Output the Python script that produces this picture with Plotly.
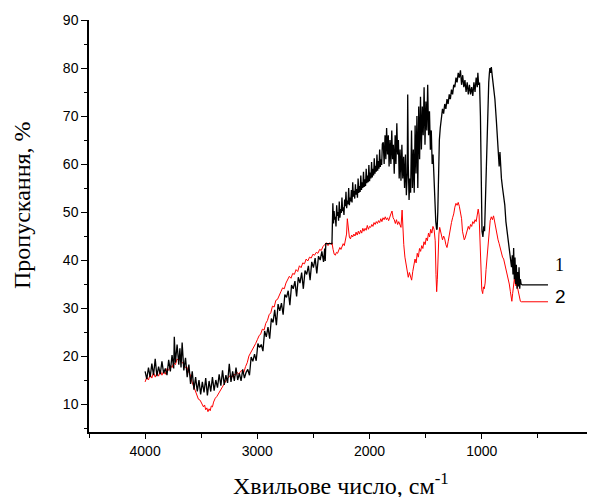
import plotly.graph_objects as go

# ---- data: sample 1 (black) : (wavenumber cm-1, transmittance %) ----
spec1 = [
    (4000, 16.8), (3985, 15.2), (3970, 17.6), (3955, 15.6), (3940, 18.4), (3925, 16.0),
    (3910, 19.4), (3895, 15.8), (3880, 17.8), (3865, 16.2), (3850, 18.9), (3835, 16.4),
    (3820, 17.4), (3805, 16.0), (3790, 19.2), (3775, 16.8), (3760, 20.2), (3745, 17.4),
    (3740, 24.0), (3730, 18.6), (3715, 22.4), (3700, 18.2), (3690, 21.6), (3680, 17.6),
    (3670, 22.8), (3655, 17.0), (3640, 19.6), (3625, 15.6), (3610, 18.2), (3595, 14.2),
    (3580, 16.8), (3565, 13.0), (3550, 15.6), (3535, 12.6), (3520, 15.0), (3505, 12.0),
    (3490, 14.6), (3475, 12.4), (3460, 15.4), (3445, 11.8), (3430, 14.8), (3415, 12.6),
    (3400, 15.6), (3385, 12.8), (3370, 15.0), (3355, 13.4), (3340, 16.2), (3325, 13.8),
    (3310, 17.0), (3295, 14.0), (3280, 16.0), (3265, 14.4), (3250, 18.4), (3235, 14.6),
    (3220, 16.8), (3205, 14.8), (3190, 17.6), (3175, 15.0), (3160, 16.4), (3145, 14.8),
    (3130, 17.2), (3115, 15.4), (3100, 16.6), (3085, 17.2), (3070, 16.0), (3055, 19.8),
    (3040, 18.9), (3025, 20.4), (3010, 19.0), (2995, 22.6), (2980, 21.8), (2965, 22.4),
    (2950, 21.0), (2935, 25.2), (2920, 24.0), (2905, 26.0), (2890, 23.6), (2875, 27.8),
    (2860, 27.0), (2845, 29.6), (2830, 26.4), (2815, 30.8), (2800, 29.4), (2785, 31.0),
    (2770, 28.6), (2755, 32.8), (2740, 32.2), (2725, 33.6), (2710, 30.6), (2695, 34.8),
    (2680, 34.0), (2665, 35.6), (2650, 32.4), (2635, 36.4), (2620, 35.2), (2605, 37.4),
    (2590, 34.0), (2575, 37.8), (2560, 37.0), (2545, 38.8), (2530, 35.8), (2515, 39.6),
    (2500, 38.4), (2485, 40.4), (2470, 37.2), (2455, 40.8), (2440, 40.0), (2425, 41.8),
    (2410, 39.6), (2400, 42.4), (2395, 39.8), (2390, 43.4), (2335, 43.4),
    (2327, 51.8), (2321, 47.6), (2316, 50.2), (2310, 48.4), (2305, 49.0), (2299, 47.0),
    (2293, 51.4), (2287, 49.2), (2281, 50.0), (2276, 48.2), (2270, 52.2), (2264, 48.8),
    (2258, 50.6), (2252, 49.8), (2246, 53.0), (2240, 50.2), (2234, 51.0), (2228, 49.4),
    (2222, 52.6), (2216, 51.2), (2210, 54.2), (2204, 50.8), (2198, 52.4), (2192, 51.6),
    (2186, 55.0), (2180, 51.4), (2174, 53.0), (2168, 52.2), (2162, 54.6), (2156, 52.0),
    (2150, 56.2), (2144, 53.2), (2138, 54.4), (2132, 52.8), (2126, 55.8), (2120, 53.6),
    (2114, 54.8), (2108, 53.0), (2102, 57.0), (2096, 54.0), (2090, 55.4), (2084, 54.2),
    (2078, 57.6), (2072, 54.6), (2066, 56.2), (2060, 55.0), (2054, 58.4), (2048, 55.2),
    (2042, 56.8), (2036, 55.4), (2030, 59.0), (2024, 56.0), (2018, 57.6), (2012, 56.2),
    (2006, 59.8), (2000, 56.4), (1994, 58.2), (1988, 57.0), (1982, 60.4), (1976, 57.2),
    (1970, 59.0), (1964, 57.6), (1958, 61.2), (1952, 58.0), (1946, 59.6), (1940, 58.4),
    (1934, 62.0), (1928, 58.6), (1922, 60.6), (1916, 59.0), (1910, 63.0), (1904, 59.4),
    (1898, 61.0), (1892, 59.8), (1886, 64.2),
    (1878, 64.5), (1870, 60.0),
    (1862, 66.0), (1855, 61.0), (1848, 67.5), (1840, 62.0), (1833, 66.0), (1826, 59.5),
    (1818, 65.0), (1810, 60.0), (1802, 67.0), (1795, 61.0), (1788, 64.0), (1780, 58.0),
    (1772, 66.0), (1765, 60.0), (1757, 68.5), (1750, 62.0), (1743, 65.0), (1736, 57.0),
    (1728, 63.0), (1720, 56.5), (1712, 64.0), (1704, 57.0), (1696, 61.5), (1688, 55.0),
    (1680, 62.0), (1672, 53.5), (1664, 58.0), (1660, 74.5), (1655, 60.0), (1648, 52.5),
    (1641, 57.0), (1634, 54.0), (1626, 67.0), (1618, 55.0), (1610, 63.0), (1602, 54.0),
    (1594, 68.0), (1586, 58.0), (1578, 70.0), (1570, 55.0), (1562, 72.0), (1554, 61.0),
    (1546, 74.0), (1538, 63.0), (1530, 72.0), (1522, 66.0), (1514, 76.0), (1506, 64.0),
    (1498, 73.0), (1490, 67.0), (1482, 76.5), (1474, 66.0), (1466, 71.0), (1458, 63.0),
    (1450, 67.0), (1442, 60.0), (1434, 62.0), (1426, 56.0), (1418, 53.0), (1410, 48.0),
    (1402, 46.3), (1398, 46.5), (1392, 50.0), (1385, 58.0), (1378, 65.0), (1370, 67.5),
    (1360, 69.0), (1350, 71.5), (1340, 70.5), (1330, 72.5), (1320, 71.5), (1310, 73.5),
    (1300, 72.5), (1290, 74.5), (1280, 73.5), (1270, 75.5), (1260, 74.5), (1250, 76.5),
    (1240, 76.0), (1230, 78.0), (1220, 77.0), (1210, 79.0), (1200, 78.0), (1190, 79.5),
    (1180, 76.5), (1170, 78.5), (1160, 76.0), (1150, 77.5), (1140, 75.0), (1130, 77.0),
    (1120, 74.5), (1110, 76.5), (1100, 74.5), (1090, 76.0), (1080, 74.2), (1070, 77.0),
    (1060, 75.0), (1050, 78.0), (1040, 76.0), (1035, 79.0), (1028, 76.5), (1020, 77.0),
    (1012, 70.0), (1005, 55.0), (998, 46.0), (990, 44.8), (982, 47.0), (975, 46.0),
    (968, 52.0), (960, 60.0), (952, 68.0), (945, 74.0), (938, 77.0), (932, 79.0),
    (928, 80.0), (920, 79.0), (915, 80.2), (905, 78.0), (895, 76.0), (883, 73.5),
    (870, 69.0), (860, 65.0), (850, 62.0), (845, 59.5), (838, 62.5), (832, 59.0),
    (825, 57.0), (815, 55.0), (805, 53.0), (795, 51.5), (785, 48.0), (775, 46.0),
    (765, 44.5), (755, 42.0), (745, 40.0), (735, 38.5), (728, 41.0), (722, 37.0),
    (716, 42.5), (710, 36.0), (704, 40.5), (698, 35.0), (692, 39.0), (686, 34.0),
    (680, 37.5), (674, 34.5), (668, 38.5), (662, 34.0), (656, 36.0), (650, 35.0),
    (640, 34.8), (410, 34.8),
]

# ---- data: sample 2 (red) ----
spec2 = [
    (4000, 14.6), (3985, 15.6), (3970, 15.0), (3955, 16.2), (3940, 15.4), (3925, 16.6),
    (3910, 15.6), (3895, 16.4), (3880, 15.8), (3865, 17.0), (3850, 16.0), (3835, 16.8),
    (3820, 16.2), (3805, 17.4), (3790, 17.0), (3775, 18.0), (3760, 17.6), (3745, 18.6),
    (3730, 18.2), (3715, 19.4), (3700, 19.0), (3690, 19.6), (3675, 18.8), (3660, 18.4),
    (3645, 17.6), (3630, 17.8), (3615, 16.8), (3600, 16.2), (3585, 14.8), (3570, 13.8),
    (3555, 12.6), (3540, 12.0), (3525, 11.0), (3510, 10.8), (3495, 10.0), (3480, 9.4),
    (3470, 9.8), (3460, 8.8), (3450, 9.2), (3440, 8.4), (3430, 9.0), (3420, 8.6),
    (3410, 9.6), (3400, 9.4), (3390, 10.4), (3375, 11.2), (3360, 11.6), (3345, 12.2),
    (3330, 12.8), (3315, 13.6), (3300, 14.0), (3285, 14.8), (3270, 15.2), (3255, 15.6),
    (3240, 16.0), (3225, 15.6), (3210, 16.2), (3195, 16.0), (3180, 16.6), (3165, 16.2),
    (3150, 16.8), (3135, 17.0), (3120, 16.6), (3105, 17.8), (3090, 18.6), (3075, 20.0),
    (3060, 20.6), (3045, 21.2), (3030, 21.8), (3015, 22.6), (3000, 23.4), (2985, 24.2),
    (2970, 24.6), (2955, 25.6), (2940, 25.4), (2925, 26.8), (2910, 27.4), (2895, 28.6),
    (2880, 29.0), (2865, 30.4), (2850, 30.2), (2835, 31.6), (2820, 31.8), (2805, 32.8),
    (2790, 33.4), (2775, 34.2), (2760, 34.0), (2745, 35.2), (2730, 35.8), (2715, 36.6),
    (2700, 36.2), (2685, 37.2), (2670, 37.0), (2655, 38.0), (2640, 37.6), (2625, 38.8),
    (2610, 38.4), (2595, 39.4), (2580, 39.2), (2565, 40.2), (2550, 39.8), (2535, 40.6),
    (2520, 40.4), (2505, 41.2), (2490, 41.0), (2475, 41.6), (2460, 41.4), (2445, 42.2),
    (2430, 42.0), (2415, 42.8), (2400, 43.2), (2385, 43.6), (2370, 43.0), (2355, 43.6),
    (2340, 43.2), (2335, 43.6), (2325, 42.2), (2315, 41.2), (2305, 41.0), (2295, 41.6),
    (2285, 41.4), (2275, 42.2), (2265, 42.6), (2255, 42.2), (2245, 42.8), (2235, 43.4),
    (2225, 43.0), (2215, 44.0), (2205, 45.4), (2198, 48.6), (2190, 46.0), (2180, 44.8),
    (2170, 44.4), (2160, 45.2), (2150, 44.8), (2140, 45.4), (2130, 45.0), (2120, 45.8),
    (2110, 45.2), (2100, 46.0), (2090, 45.4), (2080, 46.2), (2070, 45.6), (2060, 46.6),
    (2050, 46.0), (2040, 46.6), (2030, 46.2), (2020, 47.2), (2010, 46.4), (2000, 47.0),
    (1990, 46.8), (1980, 47.4), (1970, 47.0), (1960, 47.8), (1950, 47.4), (1940, 48.0),
    (1930, 47.6), (1920, 48.2), (1910, 47.8), (1900, 48.6), (1890, 48.0), (1880, 48.8),
    (1870, 48.4), (1860, 49.0), (1850, 48.4), (1840, 48.8), (1830, 48.2), (1820, 49.2),
    (1810, 49.6), (1800, 50.2), (1790, 48.8), (1780, 48.4), (1770, 47.6), (1760, 48.4),
    (1750, 47.4), (1740, 48.0), (1730, 47.2), (1720, 46.8), (1710, 50.4), (1703, 46.0),
    (1695, 43.2), (1685, 40.6), (1675, 38.8), (1665, 37.2), (1655, 36.4), (1645, 37.4),
    (1635, 36.2), (1625, 35.8), (1615, 37.6), (1605, 39.0), (1595, 40.2), (1585, 39.4),
    (1575, 41.4), (1565, 40.6), (1555, 42.4), (1545, 41.8), (1535, 43.0), (1525, 42.4),
    (1515, 43.8), (1505, 43.2), (1495, 44.6), (1485, 44.0), (1475, 45.6), (1465, 44.8),
    (1455, 46.4), (1445, 45.6), (1435, 47.0), (1425, 46.4), (1415, 44.0), (1408, 37.0),
    (1402, 33.4), (1396, 36.0), (1390, 41.0), (1382, 45.4), (1375, 46.8), (1368, 45.8),
    (1360, 45.0), (1350, 44.2), (1340, 45.0), (1330, 44.4), (1320, 43.2), (1310, 42.6),
    (1300, 43.8), (1290, 45.4), (1280, 46.6), (1270, 47.8), (1260, 48.8), (1250, 49.6),
    (1240, 51.0), (1230, 51.8), (1220, 51.4), (1210, 52.0), (1200, 51.2), (1190, 50.0),
    (1180, 48.6), (1172, 46.0), (1164, 44.8), (1156, 44.2), (1148, 44.6), (1140, 45.2),
    (1130, 46.2), (1120, 47.0), (1110, 46.4), (1100, 47.4), (1090, 47.0), (1080, 48.0),
    (1070, 47.6), (1060, 48.4), (1050, 48.0), (1040, 49.2), (1032, 50.6), (1024, 49.4),
    (1016, 45.0), (1008, 38.0), (1000, 33.8), (992, 33.0), (985, 34.4), (978, 34.0),
    (970, 35.2), (962, 38.0), (955, 40.0), (945, 43.5), (935, 46.5), (925, 48.2),
    (915, 49.0), (905, 48.4), (895, 49.2), (885, 47.8), (875, 47.0), (865, 45.6),
    (855, 44.2), (845, 43.4), (835, 42.4), (825, 41.8), (815, 40.6), (805, 40.2),
    (795, 39.2), (785, 38.0), (775, 37.4), (765, 36.2), (755, 35.0), (745, 33.4),
    (738, 31.8), (732, 31.4), (725, 33.0), (718, 35.2), (710, 36.0), (703, 35.2),
    (696, 34.6), (688, 35.0), (680, 34.0), (672, 33.0), (664, 32.0), (656, 31.4),
    (648, 31.3), (410, 31.3),
]

x1 = [p[0] for p in spec1]
y1 = [p[1] for p in spec1]
x2 = [p[0] for p in spec2]
y2 = [p[1] for p in spec2]

x_ticks = [4000, 3000, 2000, 1000, 0]
y_ticks = [10, 20, 30, 40, 50, 60, 70, 80, 90]

SERIF = "Liberation Serif, Times New Roman, serif"
SANS = "Liberation Sans, Arial, sans-serif"

fig = go.Figure()
fig.add_trace(go.Scatter(x=x2, y=y2, mode="lines",
                         line=dict(color="#ff0000", width=1), showlegend=False))
fig.add_trace(go.Scatter(x=x1, y=y1, mode="lines",
                         line=dict(color="#000000", width=1.3), showlegend=False))

# page body adds an 8px offset; figure sized to fill the rest of the window
fig.update_layout(
    width=587, height=489,
    margin=dict(l=81, r=1, t=12, b=65),
    paper_bgcolor="white", plot_bgcolor="white",
    font=dict(family=SANS, size=14, color="black"),
)
fig.update_xaxes(
    range=[4500, 0], tickvals=x_ticks, ticktext=[str(v) for v in x_ticks],
    showline=True, linecolor="black", linewidth=1.5, mirror=False,
    ticks="outside", ticklen=5, tickwidth=1.2, tickcolor="black",
    minor=dict(dtick=500, ticks="outside", ticklen=4, tickwidth=1.2, tickcolor="black"),
    showgrid=False, zeroline=False, automargin=False,
    ticklabeloverflow="allow",
    tickfont=dict(size=14),
)
fig.update_yaxes(
    range=[4.17, 90], tickvals=y_ticks, ticktext=[str(v) for v in y_ticks],
    showline=True, linecolor="black", linewidth=1.5, mirror=False,
    ticks="outside", ticklen=6, tickwidth=1.2, tickcolor="black",
    minor=dict(dtick=5, tick0=0, ticks="outside", ticklen=3, tickwidth=1.2, tickcolor="black"),
    showgrid=False, zeroline=False, automargin=False,
    tickfont=dict(size=14),
)

fig.add_annotation(text="Хвильове число, см<sup>-1</sup>", xref="paper", yref="paper",
                   x=0.499, y=-0.126, xanchor="center", yanchor="middle", showarrow=False,
                   font=dict(family=SERIF, size=24))
fig.add_annotation(text="Пропускання, %", xref="paper", yref="paper",
                   x=-0.1327, y=0.551, xanchor="center", yanchor="middle", showarrow=False,
                   textangle=-90, font=dict(family=SERIF, size=24))
fig.add_annotation(text="1", xref="x", yref="y", x=311, y=39.0, showarrow=False,
                   xanchor="center", yanchor="middle", font=dict(family=SERIF, size=18))
fig.add_annotation(text="2", xref="x", yref="y", x=298, y=32.5, showarrow=False,
                   xanchor="center", yanchor="middle", font=dict(family=SANS, size=19))

fig.write_html("out.html")
